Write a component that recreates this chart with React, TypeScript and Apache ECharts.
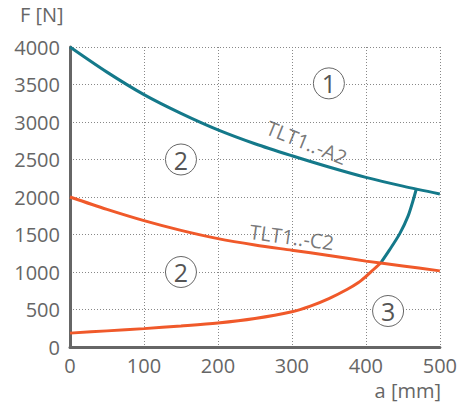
import React, { useEffect, useRef } from "react";
import * as echarts from "echarts";

// Upper teal curve TLT1..-A2
const a2X = [0, 50, 100, 150, 200, 250, 300, 350, 400, 450, 500];
const a2F = [4000, 3665, 3365, 3115, 2895, 2710, 2550, 2400, 2262, 2145, 2040];
// Upper orange curve TLT1..-C2
const c2X = [0, 50, 100, 150, 200, 250, 300, 350, 400, 450, 500];
const c2F = [2000, 1835, 1685, 1555, 1445, 1360, 1290, 1220, 1145, 1080, 1015];
// Lower orange boundary curve
const lowX = [0, 50, 100, 150, 200, 250, 300, 325, 350, 375, 390, 400, 410, 420];
const lowF = [185, 215, 245, 280, 320, 380, 470, 545, 645, 770, 860, 940, 1030, 1120];
// Steep teal boundary curve
const steepX = [420, 432, 446, 457, 464, 468];
const steepF = [1120, 1295, 1515, 1745, 1960, 2100];
// Zone markers
const zoneText = ["1", "2", "2", "3"];
const zoneX = [350, 150, 150, 430];
const zoneF = [3515, 2500, 1000, 480];
// Curve name labels
const curveNames = ["TLT1..-A2", "TLT1..-C2"];
const curveNameX = [320, 300];
const curveNameF = [2725, 1465];
const curveNameRot = [-22, -8];

const xMin = 0, xMax = 500, xStep = 100;
const yMin = 0, yMax = 4000, yStep = 500;

const TEAL = "#14798a";
const ORANGE = "#f0592a";
const GRAY = "#666666";
const FONT = "Open Sans";

const zip = (xs: number[], ys: number[]) => xs.map((x, i) => [x, ys[i]]);

export default function App() {
  const ref = useRef<HTMLDivElement>(null);
  useEffect(() => {
    if (!ref.current) return;
    const chart = echarts.init(ref.current, undefined, { renderer: "svg" });
    chart.setOption({
      animation: false,
      grid: { left: 70, right: 20, top: 47, bottom: 60, containLabel: false },
      xAxis: {
        type: "value",
        min: xMin,
        max: xMax,
        interval: xStep,
        axisLine: { show: true, onZero: false, lineStyle: { color: GRAY, width: 3 } },
        axisTick: { show: false },
        axisLabel: {
          color: GRAY,
          fontSize: 20,
          fontFamily: FONT,
          margin: 8,
          formatter: (v: number) => String(v),
        },
        splitLine: { show: true, lineStyle: { color: "#888", width: 1, type: [1, 2] } },
      },
      yAxis: {
        type: "value",
        min: yMin,
        max: yMax,
        interval: yStep,
        axisLine: { show: true, onZero: false, lineStyle: { color: GRAY, width: 3 } },
        axisTick: { show: false },
        axisLabel: {
          color: GRAY,
          fontSize: 20,
          fontFamily: FONT,
          margin: 10,
          formatter: (v: number) => String(v),
        },
        splitLine: { show: true, lineStyle: { color: "#888", width: 1, type: [1, 2] } },
      },
      graphic: [
        {
          type: "text",
          left: 20,
          top: 4,
          style: { text: "F [N]", fill: GRAY, font: `20px '${FONT}'` },
        },
        {
          type: "text",
          right: 19,
          top: 380,
          style: { text: "a [mm]", fill: GRAY, font: `20px '${FONT}'` },
        },
      ],
      series: [
        {
          type: "line",
          data: zip(a2X, a2F),
          smooth: 0.3,
          showSymbol: false,
          lineStyle: { color: TEAL, width: 3 },
          z: 3,
        },
        {
          type: "line",
          data: zip(steepX, steepF),
          smooth: 0.3,
          showSymbol: false,
          lineStyle: { color: TEAL, width: 3 },
          z: 3,
        },
        {
          type: "line",
          data: zip(c2X, c2F),
          smooth: 0.3,
          showSymbol: false,
          lineStyle: { color: ORANGE, width: 3 },
          z: 4,
        },
        {
          type: "line",
          data: zip(lowX, lowF),
          smooth: 0.3,
          showSymbol: false,
          lineStyle: { color: ORANGE, width: 3 },
          z: 4,
        },
        {
          type: "scatter",
          symbol: "circle",
          symbolSize: 31,
          z: 5,
          itemStyle: { color: "#ffffff", borderColor: GRAY, borderWidth: 1, opacity: 1 },
          label: {
            show: true,
            position: "inside",
            color: "#555555",
            fontSize: 25,
            fontFamily: FONT,
            formatter: (p: any) => zoneText[p.dataIndex],
          },
          data: zip(zoneX, zoneF),
        },
        {
          type: "scatter",
          symbol: "circle",
          symbolSize: 1,
          z: 6,
          itemStyle: { color: "transparent" },
          label: {
            show: true,
            position: "inside",
            color: "#555555",
            fontSize: 20,
            fontFamily: FONT,
            formatter: (p: any) => curveNames[p.dataIndex],
          },
          data: curveNameX.map((x, i) => ({
            value: [x, curveNameF[i]],
            label: { rotate: curveNameRot[i] },
          })),
        },
      ],
    });
    return () => chart.dispose();
  }, []);
  return (
    <div
      ref={ref}
      style={{ position: "absolute", left: 0, top: 0, width: 460, height: 407 }}
    />
  );
}
